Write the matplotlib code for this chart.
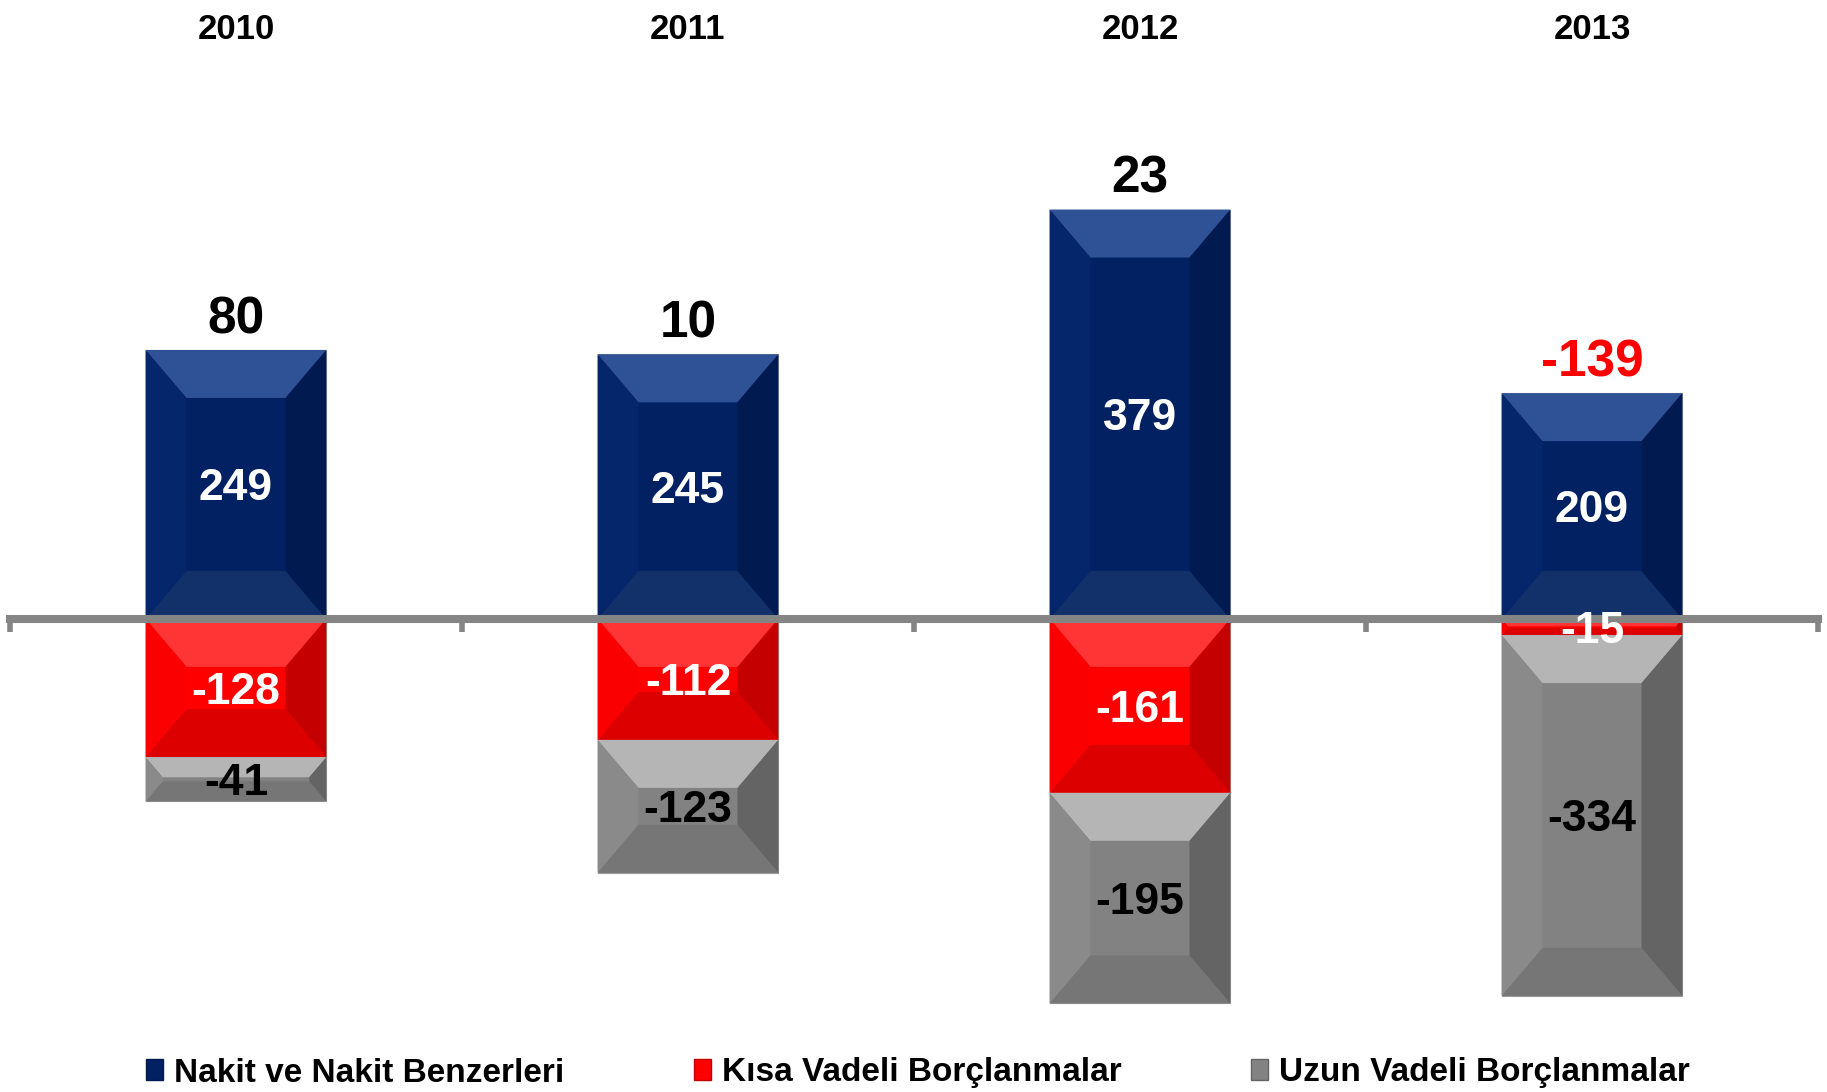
import matplotlib.pyplot as plt
from matplotlib.patches import Polygon, Rectangle
from matplotlib.transforms import blended_transform_factory

# Veriler
years = ["2010", "2011", "2012", "2013"]
nakit = [249, 245, 379, 209]
kisa_vadeli = [-128, -112, -161, -15]
uzun_vadeli = [-41, -123, -195, -334]
net_toplam = [80, 10, 23, -139]
series_names = ["Nakit ve Nakit Benzerleri", "Kısa Vadeli Borçlanmalar", "Uzun Vadeli Borçlanmalar"]

FONT = ["Liberation Sans", "DejaVu Sans"]

# Renkler: ana yüz + kabartma kenarları
blue = dict(face="#022163", top="#2f5196", left="#06266b", right="#011a4f", bottom="#12306a")
red = dict(face="#ff0000", top="#ff3434", left="#fa0000", right="#c40000", bottom="#dc0000")
gray = dict(face="#828282", top="#b5b5b5", left="#8a8a8a", right="#646464", bottom="#767676")

fig = plt.figure(figsize=(18.27, 10.92), dpi=100)
ax = fig.add_axes([0, 0, 1, 1])
ax.set_xlim(-0.522, 3.52)
ax.set_ylim(-438, 573)

x = list(range(len(years)))
bars_n = ax.bar(x, nakit, width=0.4, color=blue["face"], edgecolor="#9a9a9a", linewidth=0.8, zorder=1)
bars_k = ax.bar(x, kisa_vadeli, width=0.4, color=red["face"], edgecolor="#9a9a9a", linewidth=0.8, zorder=1)
bars_u = ax.bar(x, uzun_vadeli, width=0.4, bottom=kisa_vadeli, color=gray["face"],
                edgecolor="#9a9a9a", linewidth=0.8, zorder=1)


def bevel(rect, c):
    x0, y0 = rect.get_x(), rect.get_y()
    w, h = rect.get_width(), rect.get_height()
    (px0, py0), (px1, py1) = ax.transData.transform([(x0, min(y0, y0 + h)), (x0 + w, max(y0, y0 + h))])
    by = min(48, (py1 - py0) / 2.2)
    bx = by * 0.85
    tl, tr, br, bl = (px0, py1), (px1, py1), (px1, py0), (px0, py0)
    itl, itr = (px0 + bx, py1 - by), (px1 - bx, py1 - by)
    ibr, ibl = (px1 - bx, py0 + by), (px0 + bx, py0 + by)
    parts = [([tl, tr, itr, itl], c["top"]),
             ([bl, br, ibr, ibl], c["bottom"]),
             ([tl, itl, ibl, bl], c["left"]),
             ([tr, itr, ibr, br], c["right"])]
    inv = ax.transData.inverted()
    for pts, col in parts:
        ax.add_patch(Polygon(inv.transform(pts), closed=True, facecolor=col,
                             edgecolor="none", zorder=1.5))


for container, c in [(bars_n, blue), (bars_k, red), (bars_u, gray)]:
    for rect in container:
        bevel(rect, c)

# Sıfır çizgisi
for s in ["top", "right", "left"]:
    ax.spines[s].set_visible(False)
ax.spines["bottom"].set_position(("data", 0))
ax.spines["bottom"].set_color("#858585")
ax.spines["bottom"].set_linewidth(5.8)
ax.spines["bottom"].set_bounds(-0.5, 3.5)
ax.spines["bottom"].set_zorder(2.5)
ax.set_xticks([-0.5, 0.5, 1.5, 2.5, 3.5])
ax.tick_params(axis="x", direction="out", length=9, width=4, color="#858585", labelbottom=False)
ax.set_yticks([])

# Bar içi etiketler
for container, vals, col in [(bars_n, nakit, "white"), (bars_k, kisa_vadeli, "white"),
                             (bars_u, uzun_vadeli, "black")]:
    for rect, v in zip(container, vals):
        yc = rect.get_y() + rect.get_height() / 2
        ax.annotate(str(v), (rect.get_x() + rect.get_width() / 2, yc), xytext=(0, -11.5),
                    textcoords="offset points", ha="center", va="baseline", fontsize=32,
                    fontweight="bold", family=FONT, color=col, zorder=3)

# Net toplamlar
for i, t in enumerate(net_toplam):
    ax.annotate(str(t), (i, nakit[i]), xytext=(0, 12), textcoords="offset points",
                ha="center", va="baseline", fontsize=37, fontweight="bold", family=FONT,
                color="#ff0000" if t < 0 else "black", zorder=3)

# Yıllar
trans = blended_transform_factory(ax.transData, ax.transAxes)
for i, yr in enumerate(years):
    ax.text(i, 1 - 39 / 1092, yr, transform=trans, ha="center", va="baseline",
            fontsize=25, fontweight="bold", family=FONT)

# Lejant
handles = [Rectangle((0, 0), 1, 1, facecolor=c["face"], edgecolor=c["right"], linewidth=1)
           for c in (blue, red, gray)]
fig.legend(handles, series_names, loc="center left", bbox_to_anchor=(146 / 1827, 1 - 1073 / 1092),
           ncol=3, frameon=False, borderpad=0, borderaxespad=0, handlelength=0.5, handleheight=0.6,
           handletextpad=0.33, columnspacing=3.9,
           prop=dict(family=FONT, weight="bold", size=24))

fig.savefig("out.png", dpi=100)
